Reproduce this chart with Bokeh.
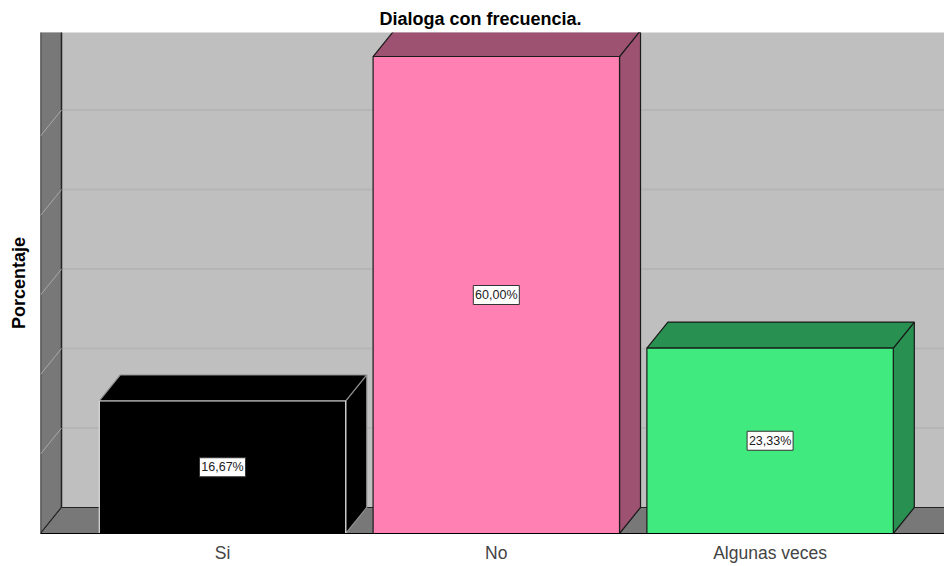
from bokeh.plotting import figure
from bokeh.embed import file_html
from bokeh.resources import INLINE
from bokeh.models import FixedTicker, ColumnDataSource, Range1d
from bokeh.core.properties import value

title = "Dialoga con frecuencia."
y_label = "Porcentaje"
categories = ["Si", "No", "Algunas veces"]
percentages = [16.67, 60.00, 23.33]
labels = ["16,67%", "60,00%", "23,33%"]
face_colors = ["#000000", "#ff80b2", "#40ea7e"]
dark_colors = ["#000000", "#9c5270", "#289050"]
edge_colors = ["#e0e0e0", "#1a1a1a", "#1a1a1a"]
back_edge_colors = ["#8c8c8c", "#1a1a1a", "#1a1a1a"]
grid_values = [10, 20, 30, 40, 50]

# 3-D projection of the depth, in data units
DX = 21 / 273.75
DY = 26 / 7.95
BAR = 0.9
X0, X1 = -0.6648, 2.637
Y1 = 63.02

p = figure(width=944, height=566, x_range=Range1d(X0, X1), y_range=Range1d(0, Y1),
           output_backend="svg", toolbar_location=None, min_border_left=40,
           min_border_right=0, min_border_top=32, min_border_bottom=33,
           background_fill_color="#bfbfbf", border_fill_color="#ffffff",
           outline_line_color=None, title=title)
p.frame_width = 904
p.frame_height = 501

p.title.align = "left"
p.title.text_font = "Liberation Sans"
p.title.text_font_size = "18px"
p.title.text_font_style = "bold"
p.title.text_color = "#000000"
p.title.standoff = 7
p.title.offset = 339

p.grid.visible = False

p.xaxis.ticker = FixedTicker(ticks=list(range(len(categories))))
p.xaxis.major_label_overrides = {i: c for i, c in enumerate(categories)}
p.xaxis.major_tick_line_color = None
p.xaxis.minor_tick_line_color = None
p.xaxis.axis_line_color = "#000000"
p.xaxis.major_label_text_font = "Liberation Sans"
p.xaxis.major_label_text_font_size = "17.5px"
p.xaxis.major_label_text_color = "#444444"
p.xaxis.major_label_standoff = 3

p.yaxis.ticker = FixedTicker(ticks=[])
p.yaxis.axis_line_color = None
p.yaxis.major_tick_line_color = None
p.yaxis.minor_tick_line_color = None
p.yaxis.axis_label = y_label
p.yaxis.axis_label_text_font = "Liberation Sans"
p.yaxis.axis_label_text_font_size = "18px"
p.yaxis.axis_label_text_font_style = "bold"
p.yaxis.axis_label_text_color = "#000000"
p.yaxis.axis_label_standoff = 12

# back-wall gridlines
p.segment(x0=[X0 + DX] * len(grid_values), y0=[v + DY for v in grid_values],
          x1=[X1] * len(grid_values), y1=[v + DY for v in grid_values],
          line_color="#b5b5b5", line_width=2)

# left wall and floor (drawn past the frame so that only the inner edges show)
p.patch([X0, X0 + DX, X0 + DX, X0], [0, DY, Y1 + 3, Y1 + 3], fill_color="#787878",
        line_color="#222222", line_width=1.5)
p.patch([X0, X0 + DX, X1 + 0.1, X1 + 0.1], [0, DY, DY, 0], fill_color="#787878",
        line_color="#222222", line_width=1)

# wall gridlines
p.segment(x0=[X0] * len(grid_values), y0=grid_values,
          x1=[X0 + DX] * len(grid_values), y1=[v + DY for v in grid_values],
          line_color="#a8a8a8", line_width=1)

# bars
tops, sides = ([], []), ([], [])
for i, v in enumerate(percentages):
    l, r = i - BAR / 2, i + BAR / 2
    tops[0].append([l, l + DX, r + DX, r])
    tops[1].append([v, v + DY, v + DY, v])
    sides[0].append([r, r + DX, r + DX, r])
    sides[1].append([0, DY, v + DY, v])

p.patches(sides[0], sides[1], fill_color=dark_colors, line_color=back_edge_colors, line_width=1.2)
p.patches(tops[0], tops[1], fill_color=dark_colors, line_color=back_edge_colors, line_width=1.2)

src = ColumnDataSource(dict(x=list(range(len(categories))), top=percentages,
                            mid=[v / 2 for v in percentages], color=face_colors,
                            edge=edge_colors, label=labels))
p.vbar(x="x", top="top", bottom=0, width=BAR, fill_color="color", line_color="edge",
       line_width=1.2, source=src)

# value labels
p.rect(x="x", y="mid", width=46, height=19, width_units="screen", height_units="screen",
       fill_color="#ffffff", line_color="#333333", line_width=1, source=src)
p.text(x="x", y="mid", text="label", text_align="center", text_baseline="middle",
       text_font=value("Liberation Sans"), text_font_size="12.5px", text_color="#222222", source=src)

open("out.html", "w").write(file_html(p, INLINE))
